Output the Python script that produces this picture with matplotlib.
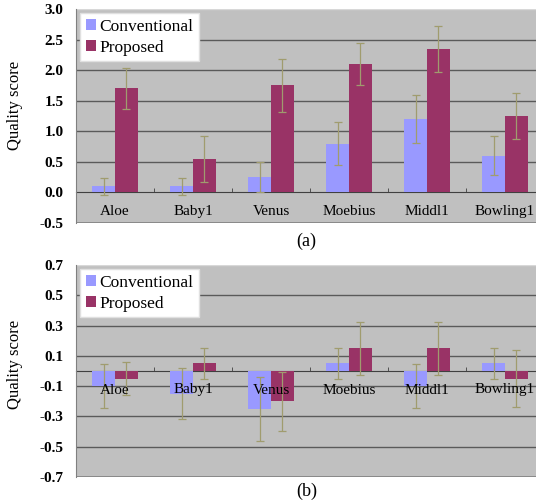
import numpy as np
import matplotlib
matplotlib.use("Agg")
import matplotlib.pyplot as plt

plt.rcParams['font.family'] = ['Liberation Serif', 'DejaVu Serif']

categories = ['Aloe', 'Baby1', 'Venus', 'Moebius', 'Middl1', 'Bowling1']

# panel (a)
conv_a = [0.10, 0.10, 0.25, 0.80, 1.20, 0.60]
conv_a_err = [0.14, 0.14, 0.25, 0.35, 0.39, 0.32]
prop_a = [1.70, 0.55, 1.75, 2.10, 2.35, 1.25]
prop_a_err = [0.34, 0.38, 0.43, 0.34, 0.38, 0.37]

# panel (b)
conv_b = [-0.10, -0.15, -0.25, 0.05, -0.10, 0.05]
conv_b_err = [0.145, 0.17, 0.21, 0.105, 0.145, 0.105]
prop_b = [-0.05, 0.05, -0.20, 0.15, 0.15, -0.05]
prop_b_err = [0.11, 0.105, 0.195, 0.175, 0.175, 0.19]

conv_color = '#9999FF'
prop_color = '#993366'
err_color = '#A09C6E'
bg = '#C0C0C0'
grid_color = '#5a5a5a'

W, H = 536, 501
fig = plt.figure(figsize=(W / 100, H / 100), dpi=100)


def panel(rect, conv, conv_err, prop, prop_err, yticks, ylim, grid_vals):
    ax = fig.add_axes(rect)
    ax.set_facecolor(bg)
    x = np.arange(len(categories))
    w = 0.29
    ax.bar(x - w / 2, conv, w, color=conv_color, label='Conventional', zorder=3)
    ax.bar(x + w / 2, prop, w, color=prop_color, label='Proposed', zorder=3)
    ax.errorbar(x - w / 2, conv, yerr=conv_err, fmt='none', ecolor=err_color,
                elinewidth=0.9, capsize=3, capthick=0.9, zorder=4)
    ax.errorbar(x + w / 2, prop, yerr=prop_err, fmt='none', ecolor=err_color,
                elinewidth=0.9, capsize=3, capthick=0.9, zorder=4)
    for g in grid_vals:
        ax.axhline(g, color=grid_color, lw=1.0, zorder=1)
    ax.set_xlim(-0.5, len(categories) - 0.5)
    ax.set_ylim(*ylim)
    ax.set_yticks(yticks)
    ax.set_yticklabels([f'{v:.1f}' for v in yticks], fontsize=11, fontweight='bold')
    ax.tick_params(axis='y', length=0, pad=9)
    ax.spines['bottom'].set_position(('data', 0))
    ax.spines['bottom'].set_color('#404040')
    ax.spines['bottom'].set_zorder(2)
    for s in ['top', 'right']:
        ax.spines[s].set_visible(False)
    ax.spines['left'].set_color('#808080')
    ax.axhline(ylim[0], color='#808080', lw=1.2, zorder=2)
    ax.axhline(ylim[1], color='#d8d8d8', lw=1.0, zorder=2)
    ax.set_xticks(x)
    ax.set_xticklabels(categories, fontsize=11)
    ax.tick_params(axis='x', which='major', length=0, pad=9)
    ax.set_xticks(x[:-1] + 0.5, minor=True)
    ax.tick_params(axis='x', which='minor', direction='in', length=3, color='#404040')
    ax.xaxis.set_zorder(5)
    leg = ax.legend(loc='upper left', bbox_to_anchor=(0.0, 1.0), fontsize=12.5,
                    frameon=True, fancybox=False, handlelength=0.6, handleheight=0.6,
                    handletextpad=0.2, borderpad=0.3, labelspacing=0.3,
                    borderaxespad=0.25)
    leg.get_frame().set_facecolor('white')
    leg.get_frame().set_edgecolor('#e0e0e0')
    leg.get_frame().set_alpha(1)
    leg.set_zorder(6)
    return ax


def rect(left, top, right, bottom):
    return [left / W, 1 - bottom / H, (right - left) / W, (bottom - top) / H]


panel(rect(76, 9, 544, 223), conv_a, conv_a_err, prop_a, prop_a_err,
      np.arange(-0.5, 3.01, 0.5), (-0.5, 3.0), [0.5, 1.0, 1.5, 2.0, 2.5])
panel(rect(76, 265, 544, 477), conv_b, conv_b_err, prop_b, prop_b_err,
      np.round(np.arange(-0.7, 0.71, 0.2), 1), (-0.7, 0.7),
      [-0.5, -0.3, -0.1, 0.1, 0.3, 0.5])

fig.text(15 / W, 1 - 105 / H, 'Quality score', fontsize=12, rotation=90,
         ha='center', va='center')
fig.text(15 / W, 1 - 364 / H, 'Quality score', fontsize=12, rotation=90,
         ha='center', va='center')
fig.text(306 / W, 1 - 241 / H, '(a)', fontsize=13, ha='center', va='center')
fig.text(307 / W, 1 - 491 / H, '(b)', fontsize=13, ha='center', va='center')

fig.savefig('out.png', dpi=100)
